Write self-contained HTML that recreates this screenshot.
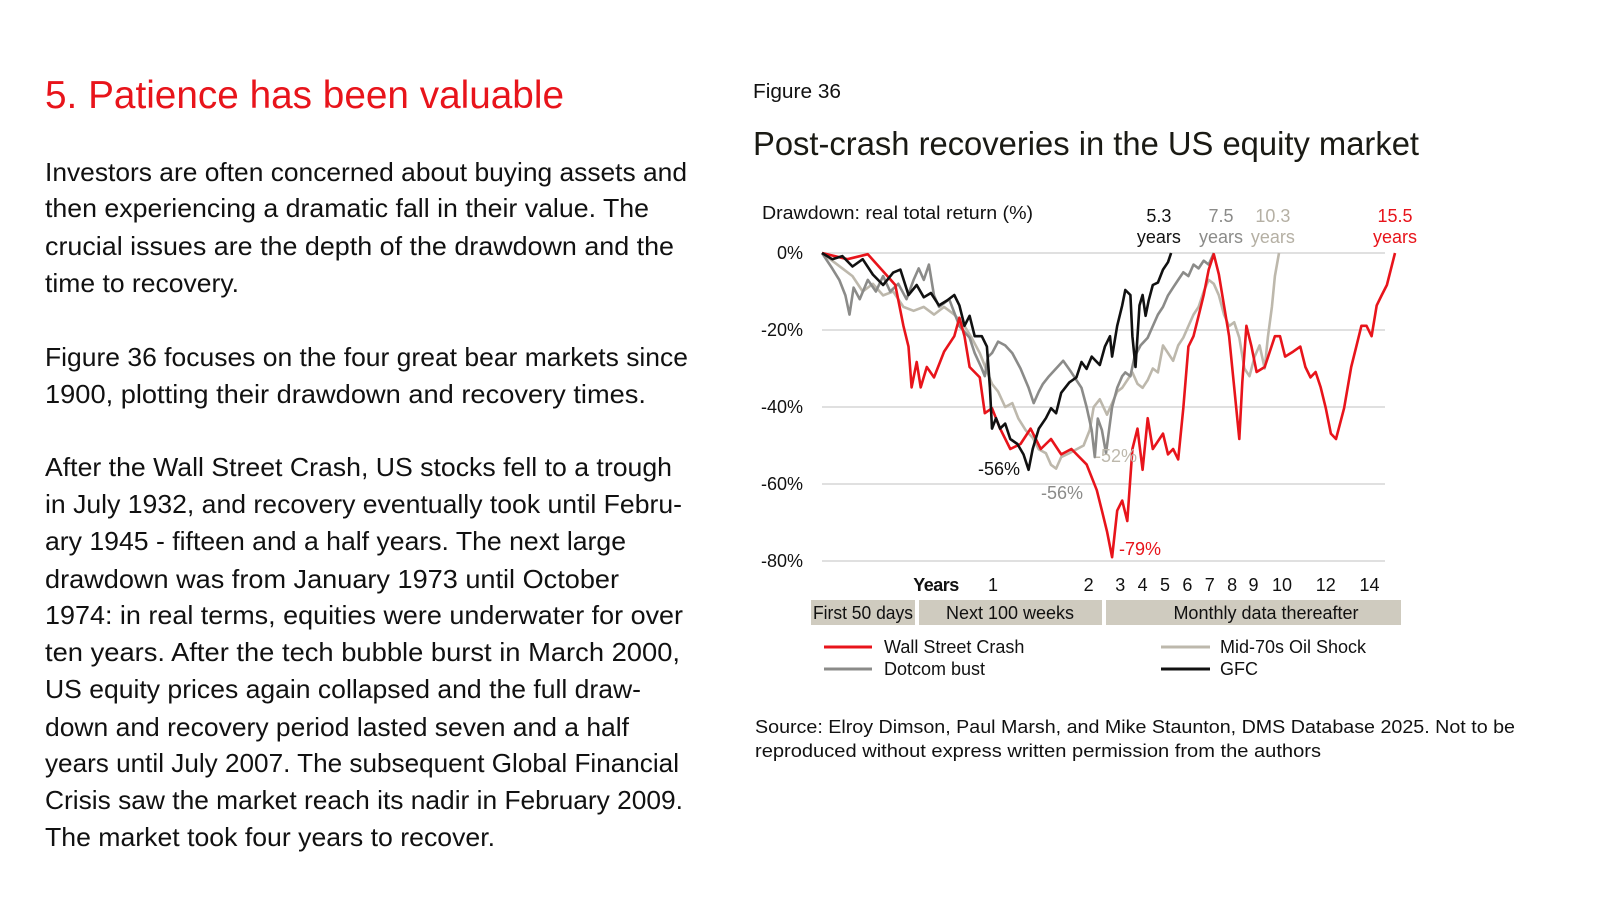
<!DOCTYPE html>
<html><head><meta charset="utf-8"><style>
html,body{margin:0;padding:0;background:#fff;}
svg{display:block;font-family:"Liberation Sans",sans-serif;}
</style></head><body>
<svg id="page" width="1600" height="903" viewBox="0 0 1600 903">
<g>
<text x="45" y="108" font-size="39" fill="#e8141b" textLength="519" lengthAdjust="spacingAndGlyphs">5. Patience has been valuable</text>
<g font-size="26" fill="#111">
<text x="45" y="181" textLength="642" lengthAdjust="spacingAndGlyphs">Investors are often concerned about buying assets and</text>
<text x="45" y="217" textLength="604" lengthAdjust="spacingAndGlyphs">then experiencing a dramatic fall in their value. The</text>
<text x="45" y="255" textLength="629" lengthAdjust="spacingAndGlyphs">crucial issues are the depth of the drawdown and the</text>
<text x="45" y="292" textLength="194" lengthAdjust="spacingAndGlyphs">time to recovery.</text>
<text x="45" y="366" textLength="643" lengthAdjust="spacingAndGlyphs">Figure 36 focuses on the four great bear markets since</text>
<text x="45" y="403" textLength="601" lengthAdjust="spacingAndGlyphs">1900, plotting their drawdown and recovery times.</text>
<text x="45" y="476" textLength="627" lengthAdjust="spacingAndGlyphs">After the Wall Street Crash, US stocks fell to a trough</text>
<text x="45" y="513" textLength="637" lengthAdjust="spacingAndGlyphs">in July 1932, and recovery eventually took until Febru-</text>
<text x="45" y="550" textLength="581" lengthAdjust="spacingAndGlyphs">ary 1945 - fifteen and a half years. The next large</text>
<text x="45" y="588" textLength="574" lengthAdjust="spacingAndGlyphs">drawdown was from January 1973 until October</text>
<text x="45" y="624" textLength="638" lengthAdjust="spacingAndGlyphs">1974: in real terms, equities were underwater for over</text>
<text x="45" y="661" textLength="635" lengthAdjust="spacingAndGlyphs">ten years. After the tech bubble burst in March 2000,</text>
<text x="45" y="698" textLength="596" lengthAdjust="spacingAndGlyphs">US equity prices again collapsed and the full draw-</text>
<text x="45" y="736" textLength="584" lengthAdjust="spacingAndGlyphs">down and recovery period lasted seven and a half</text>
<text x="45" y="772" textLength="634" lengthAdjust="spacingAndGlyphs">years until July 2007. The subsequent Global Financial</text>
<text x="45" y="809" textLength="638" lengthAdjust="spacingAndGlyphs">Crisis saw the market reach its nadir in February 2009.</text>
<text x="45" y="846" textLength="450" lengthAdjust="spacingAndGlyphs">The market took four years to recover.</text>
</g>
</g>
<text x="753" y="98" font-size="20" fill="#111" textLength="88" lengthAdjust="spacingAndGlyphs">Figure 36</text>
<text x="753" y="155" font-size="33" fill="#1a1a14" textLength="666" lengthAdjust="spacingAndGlyphs">Post-crash recoveries in the US equity market</text>
<text x="762" y="219" font-size="18" fill="#111" textLength="271" lengthAdjust="spacingAndGlyphs">Drawdown: real total return (%)</text>
<g id="grid"></g>
<g id="ylabels" font-size="18" fill="#111" text-anchor="end"></g>
<g id="series"></g>
<g id="recov" font-size="18" text-anchor="middle"></g>
<g font-size="18" text-anchor="middle">
<text x="999" y="475" fill="#111">-56%</text>
<text x="1062" y="499" fill="#8b8b89">-56%</text>
<text x="1116" y="462" fill="#bdb8ac">-52%</text>
<text x="1140" y="555" fill="#e8141b">-79%</text>
</g>
<text x="936" y="591" font-size="18" font-weight="bold" fill="#111" text-anchor="middle" letter-spacing="-0.5">Years</text>
<g id="xlabels" font-size="18" fill="#111" text-anchor="middle"></g>
<g font-size="18" fill="#111" text-anchor="middle">
<rect x="811" y="600" width="104" height="25" fill="#cfcbbf"/>
<text x="863" y="619" textLength="100" lengthAdjust="spacingAndGlyphs">First 50 days</text>
<rect x="919" y="600" width="183" height="25" fill="#cfcbbf"/>
<text x="1010" y="619">Next 100 weeks</text>
<rect x="1106" y="600" width="295" height="25" fill="#cfcbbf"/>
<text x="1266" y="619">Monthly data thereafter</text>
</g>
<g font-size="18" fill="#111">
<g><line x1="824" y1="647" x2="872" y2="647" stroke="#e8141b" stroke-width="3"/><text x="884" y="653">Wall Street Crash</text></g>
<g><line x1="824" y1="669" x2="872" y2="669" stroke="#8b8b89" stroke-width="3"/><text x="884" y="675">Dotcom  bust</text></g>
<g><line x1="1161" y1="647" x2="1210" y2="647" stroke="#bdb8ac" stroke-width="3"/><text x="1220" y="653">Mid-70s Oil Shock</text></g>
<g><line x1="1161" y1="669" x2="1210" y2="669" stroke="#111" stroke-width="3"/><text x="1220" y="675">GFC</text></g>
</g>
<g font-size="18" fill="#111">
<text x="755" y="733" textLength="760" lengthAdjust="spacingAndGlyphs">Source: Elroy Dimson, Paul Marsh, and Mike Staunton, DMS Database 2025. Not to be</text>
<text x="755" y="757" textLength="566" lengthAdjust="spacingAndGlyphs">reproduced without express written permission from the authors</text>
</g>
</svg>
<script>
const yTicks = [0, -20, -40, -60, -80];
const yTickLabels = ["0%", "-20%", "-40%", "-60%", "-80%"];
const xTickT = [168, 262, 293, 315, 337, 359, 381, 403, 424, 452, 495, 538];
const xTickLabels = ["1","2","3","4","5","6","7","8","9","10","12","14"];
const wscT = [0,25,45,63,72,80,85,88,93,97,103,110,120,130,135,140,145,155,160,167,175,185,195,205,215,225,235,245,260,270,275,280,285,290,295,300,305,310,315,320,325,335,340,345,350,355,360,365,370,375,380,385,390,395,400,405,410,413,417,422,427,435,445,450,455,463,470,475,480,485,490,495,500,505,513,520,525,530,535,540,545,550,555,563];
const wscV = [0,-1.6,-0.3,-5.6,-8.3,-18.9,-24.3,-34.9,-28.3,-34.9,-29.6,-32.3,-25.6,-21.6,-16.8,-21.6,-29.6,-32.3,-41.6,-40.3,-45.6,-50.9,-49.6,-45.6,-50.9,-48.3,-52.3,-50.9,-54.9,-61.6,-66.9,-72.3,-79,-66.9,-64.3,-69.6,-50.9,-45.6,-56.3,-42.9,-50.9,-46.9,-52.3,-50.9,-53.6,-40.3,-24.3,-21.6,-16.3,-10.9,-4.3,-0.3,-5.6,-13.6,-21.6,-34.9,-48.3,-33.6,-18.9,-24.3,-30.9,-29.6,-21.6,-21.6,-26.9,-25.6,-24.3,-29.6,-32.3,-30.9,-34.9,-40.3,-46.9,-48.3,-40.3,-29.6,-24.3,-18.9,-18.9,-21.6,-13.6,-10.9,-8.3,0];
const gfcT = [0,10,20,30,40,50,60,70,77,85,93,100,107,115,123,130,135,140,145,150,157,162,165,167,171,175,180,185,192,198,203,207,213,220,225,230,235,243,250,255,260,265,273,278,283,285,290,295,298,303,305,308,312,315,318,321,325,330,335,340,343];
const gfcV = [0,-1.6,-0.8,-3.5,-1.6,-5.6,-8.3,-5.1,-4.3,-10.9,-8.3,-11.5,-10.4,-13.6,-12.3,-10.9,-13.6,-18.9,-16.3,-21.6,-21.6,-24.3,-34.9,-45.6,-42.9,-45.6,-44.3,-48.3,-49.6,-52.3,-56.3,-50.9,-45.6,-42.9,-40.3,-41.6,-36.3,-33.6,-32.3,-28.3,-30.1,-26.9,-29.1,-24.3,-21.6,-26.9,-18.9,-13.6,-9.6,-10.9,-21.6,-29.6,-13.6,-10.9,-16.3,-12.3,-8.3,-7.7,-4.3,-2.4,0];
const dotT = [0,10,17,23,27,31,37,45,53,60,67,75,83,90,95,100,105,110,115,120,125,135,145,150,157,160,163,167,173,180,187,195,203,208,213,217,223,230,237,245,250,255,260,265,268,271,275,279,285,290,295,298,303,307,313,320,325,330,335,340,345,350,355,360,365,370,375,380,385];
const dotV = [0,-4,-7,-11,-16,-9,-12,-7,-10,-6,-10,-8,-12,-7,-4,-7,-3,-11,-14,-13,-12,-19,-22,-26,-30,-32,-27,-26,-23,-24,-26,-30,-35,-39,-36,-34,-32,-30,-28,-31,-33,-35,-40,-46,-53,-43,-46,-52,-40,-35,-32,-31,-32,-27,-24,-22,-19,-16,-14,-11,-9,-7,-5,-6,-3,-4,-2,-3,0];
const oilT = [0,10,20,30,40,50,60,70,80,90,100,110,120,130,140,147,155,161,167,173,180,187,193,200,207,213,220,225,230,235,243,250,257,263,267,273,280,285,290,295,300,305,310,315,320,325,330,335,340,345,350,355,360,365,370,375,380,385,390,395,400,405,410,415,420,425,430,435,438,442,445,449];
const oilV = [0,-2,-4,-6,-10,-8,-11,-10,-14,-15,-14,-16,-14,-16,-19,-22,-26,-30,-34,-36,-40,-39,-43,-46,-48,-51,-52,-55,-56,-53,-52,-51,-50,-46,-40,-38,-42,-39,-36,-35,-33,-31,-34,-35,-33,-30,-31,-24,-26,-28,-24,-22,-19,-16,-14,-10,-7,-8,-11,-16,-19,-18,-22,-30,-32,-27,-24,-30,-22,-14,-6,0];
const recovLabels = ["5.3", "7.5", "10.3", "15.5"];
const recovT = [331, 392, 443, 563];

const NS = "http://www.w3.org/2000/svg";
const X = t => 822 + t * (573 / 563);
const Y = v => 253 - v * (308 / 80);
function mk(tag, attrs, parent, txt) {
  const e = document.createElementNS(NS, tag);
  for (const k in attrs) e.setAttribute(k, attrs[k]);
  if (txt !== undefined) e.textContent = txt;
  parent.appendChild(e);
  return e;
}
const grid = document.getElementById('grid');
const yl = document.getElementById('ylabels');
yTicks.forEach((v, i) => {
  const g = mk('line', {x1: 822, x2: 1385, y1: Y(v), y2: Y(v), stroke: '#d6d6d6', 'stroke-width': 1.5}, grid);
  
  
  const t = mk('text', {x: 803, y: Y(v) + 6}, yl, yTickLabels[i]);
  
  
});
const xl = document.getElementById('xlabels');
xTickT.forEach((t, i) => {
  const e = mk('text', {x: X(t), y: 591}, xl, xTickLabels[i]);
  
  
});
const ser = document.getElementById('series');
const defs = [
  [oilT, oilV, '#bdb8ac', 'line-oil-shock'],
  [dotT, dotV, '#8b8b89', 'line-dotcom'],
  [wscT, wscV, '#e8141b', 'line-wall-street-crash'],
  [gfcT, gfcV, '#111111', 'line-gfc']
];
defs.forEach(d => {
  const pts = d[0].map((t, i) => X(t).toFixed(1) + ',' + Y(d[1][i]).toFixed(1)).join(' ');
  const p = mk('polyline', {points: pts, fill: 'none', stroke: d[2], 'stroke-width': 2.6, 'stroke-linejoin': 'round'}, ser);
  
  
});
const rc = document.getElementById('recov');
const rcol = ['#111', '#8b8b89', '#b5b0a4', '#e8141b'];
recovLabels.forEach((s, i) => {
  const a = mk('text', {x: X(recovT[i]), y: 222, fill: rcol[i]}, rc, s);
  
  
  const b = mk('text', {x: X(recovT[i]), y: 243, fill: rcol[i]}, rc, 'years');
  
  
});
</script>
</body></html>
